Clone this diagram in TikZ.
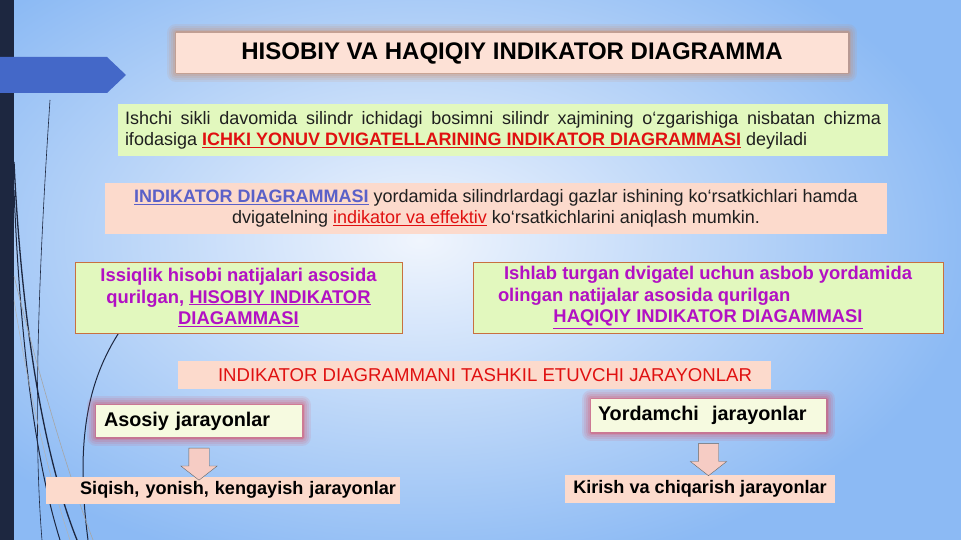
\documentclass[tikz,border=0pt]{standalone}
\usepackage{fontspec}
\setmainfont{Liberation Sans}
\usetikzlibrary{shapes.arrows,calc}
\definecolor{navy}{RGB}{29,39,64}
\definecolor{bgout}{RGB}{140,186,244}
\definecolor{bgin}{RGB}{240,245,253}
\definecolor{tab}{RGB}{68,104,200}
\definecolor{peach}{RGB}{252,218,204}
\definecolor{lgrn}{RGB}{226,248,190}
\definecolor{cream}{RGB}{246,250,224}
\definecolor{mag}{RGB}{178,16,196}
\definecolor{rd}{RGB}{224,16,16}
\definecolor{blu}{RGB}{90,96,200}
\definecolor{brd}{RGB}{200,112,64}
\definecolor{arw}{RGB}{246,204,196}
\definecolor{glr}{RGB}{226,60,80}
\definecolor{glo}{RGB}{214,130,80}
\tikzset{glw/.style={line join=round,preaction={draw=#1,line width=18pt,draw opacity=.1},
  preaction={draw=#1,line width=14pt,draw opacity=.1},preaction={draw=#1,line width=10pt,draw opacity=.12},
  preaction={draw=#1,line width=6pt,draw opacity=.15},preaction={draw=#1,line width=3pt,draw opacity=.3}},
  fnt/.style={font=\fontsize{#1}{21}\selectfont},
  ttl/.style={fill=peach!80!white,glw=glo,inner sep=0pt,minimum width=672,minimum height=40,font=\fontsize{24}{28}\selectfont\bfseries},
  grn/.style={fill=lgrn,inner sep=0pt,minimum width=770,minimum height=52,fnt=18,text=black!88},
  pch/.style={fill=peach,inner sep=0pt,fnt=18,text=black!88},
  res/.style={fill=lgrn,draw=brd,line width=.7pt,inner sep=0pt,minimum height=71,align=center,text=mag,font=\fontsize{18.4}{21.5}\selectfont\bfseries},
  jar/.style={fill=cream,glw=glr,inner sep=0pt,minimum height=32,text width=#1,align=left,font=\fontsize{19.8}{22}\selectfont\bfseries},
  prc/.style={fill=peach,inner sep=0pt,minimum height=27,font=\fontsize{18.1}{21}\selectfont\bfseries},
  dn/.style={single arrow,draw=black!60,fill=arw,rotate=-90,inner sep=10pt,single arrow head extend=8pt,single arrow tip angle=104,minimum height=32}}
\begin{document}
\begin{tikzpicture}[x=1pt,y=-1pt]
\useasboundingbox (0,0) rectangle (961,540);
\shade[inner color=bgin,outer color=bgout] (-140,-100) rectangle (980,580);
\fill[navy] (0,0) rectangle (14,540);
\fill[tab] (0,57) -- (107,57) -- (126,75) -- (107,93) -- (0,93) -- cycle;
\draw[navy,line width=1.3pt] (14,162) .. controls (22,330) and (45,460) .. (77,540);
\draw[navy,line width=1pt] (14,190) .. controls (20,340) and (35,460) .. (60,540);
\draw[navy,line width=1pt] (120,331) .. controls (88,380) and (75,440) .. (88,540);
\draw[navy,line width=.6pt] (50,100) .. controls (40,250) and (32,420) .. (42,540);
\draw[black!35,line width=.6pt] (14,276) .. controls (40,380) and (70,480) .. (93,540);
\draw[black!30,line width=.5pt] (14,300) .. controls (30,400) and (50,480) .. (70,540);
\node[ttl] (tt) at (512,53) {HISOBIY VA HAQIQIY INDIKATOR DIAGRAMMA};
\node[grn,text width=756,align=justify] (df) at (503,130) {Ishchi sikli davomida silindr ichidagi bosimni silindr xajmining o‘zgarishiga nisbatan chizma\linebreak ifodasiga \textcolor{rd}{\bfseries\underline{ICHKI YONUV DVIGATELLARINING INDIKATOR DIAGRAMMASI}} deyiladi};
\node[pch,minimum width=782,minimum height=51,align=center] (us) at (496,208.5) {\textcolor{blu}{\bfseries\underline{INDIKATOR DIAGRAMMASI}} yordamida silindrlardagi gazlar ishining ko‘rsatkichlari hamda\\dvigatelning \textcolor{rd}{\underline{indikator va effektiv}} ko‘rsatkichlarini aniqlash mumkin.};
\node[res,minimum width=327] (hs) at (238.5,297.5) {Issiqlik hisobi natijalari asosida\\qurilgan, \underline{HISOBIY INDIKATOR}\\\underline{DIAGAMMASI}};
\node[res,minimum width=470] (hq) at (708,297.5) {Ishlab turgan dvigatel uchun asbob yordamida\\\makebox[420pt][l]{olingan natijalar asosida qurilgan}\\\underline{HAQIQIY INDIKATOR DIAGAMMASI}};
\node[pch,minimum width=593,minimum height=28,text=rd,font=\fontsize{18.6}{21}\selectfont] (tj) at (474.5,375) {\hspace*{21pt}INDIKATOR DIAGRAMMANI TASHKIL ETUVCHI JARAYONLAR};
\node[jar=190,minimum width=206] (as) at (199,421) {Asosiy jarayonlar};
\node[jar=221,minimum width=235,minimum height=33] (yr) at (708.5,415.5) {Yordamchi\ \ jarayonlar};
\node[prc,minimum width=354,text width=346,align=right] (sq) at (223,490) {Siqish, yonish, kengayish jarayonlar};
\node[prc,minimum width=270,minimum height=28] (kr) at (700,489) {Kirish va chiqarish jarayonlar};
\node[dn] (a1) at ($(as.south)+(0,23)$) {};
\node[dn] (a2) at ($(yr.south)+(0,23.5)$) {};
\end{tikzpicture}
\end{document}
